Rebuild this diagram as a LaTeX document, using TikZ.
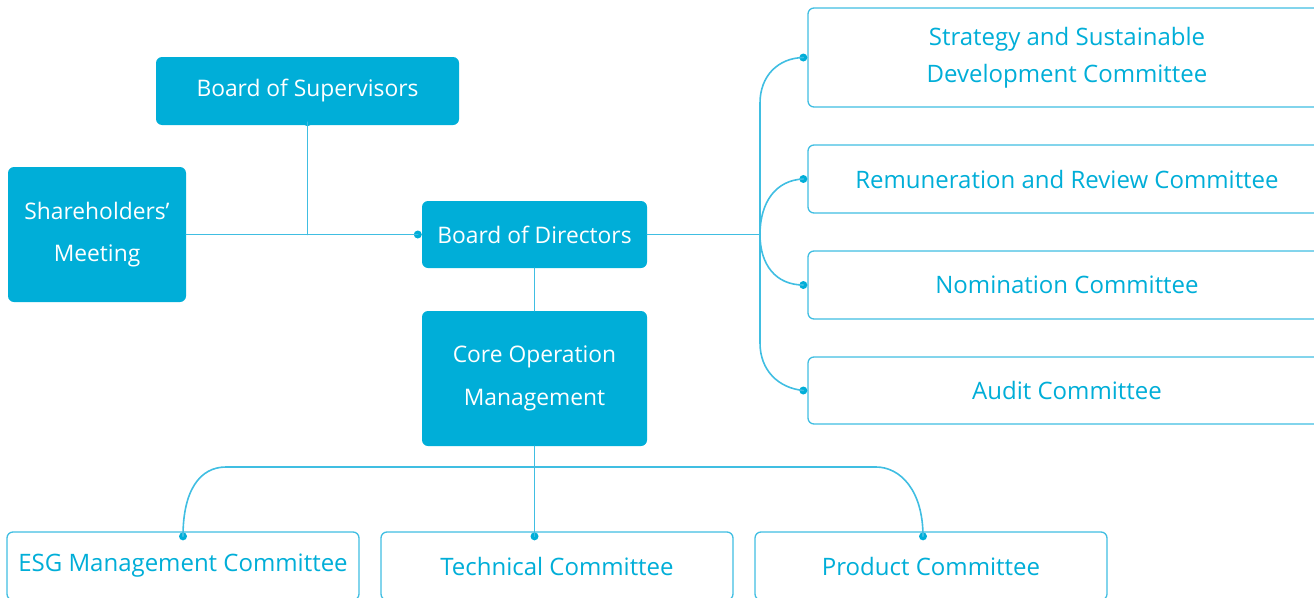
\documentclass[tikz,border=0pt]{standalone}
\usepackage{fontspec}
\setmainfont{Open Sans}
\definecolor{boxcyan}{RGB}{0,174,216}
\definecolor{linecyan}{RGB}{64,190,226}
\begin{document}
\begin{tikzpicture}[x=1pt, y=-1pt, line join=round, line cap=round,
  font=\fontsize{22.8}{26}\selectfont,
  solidbox/.style={fill=boxcyan, text=white, rounded corners=6pt, inner sep=0pt, align=center},
  openbox/.style={draw=linecyan, line width=1.3pt, fill=white, text=boxcyan, rounded corners=6pt, inner sep=0pt, align=center, font=\fontsize{24}{28}\selectfont},
  link/.style={draw=linecyan, line width=1.6pt},
  dot/.style={circle, fill=boxcyan, inner sep=0pt, minimum size=8pt}]
\useasboundingbox (0,0) rectangle (1314,597);
\clip (0,0) rectangle (1314,597);
% left part
\node[solidbox, minimum width=303pt, minimum height=68pt] (sup) at (307.5,91) {Board of Supervisors};
\node[solidbox, minimum width=178pt, minimum height=135pt, font=\fontsize{22.8}{42}\selectfont] (share) at (97,234.5) {Shareholders'\\Meeting};
\node[solidbox, minimum width=225pt, minimum height=67pt] (bod) at (534.5,234.5) {Board of Directors};
\node[solidbox, minimum width=225pt, minimum height=135pt, font=\fontsize{22.8}{43}\selectfont] (core) at (534.5,378.5) {Core Operation\\Management};
% committees on the right
\node[openbox, minimum width=518pt, minimum height=99pt, font=\fontsize{24}{37}\selectfont] (strat) at (1067,57.5) {Strategy and Sustainable\\Development Committee};
\node[openbox, minimum width=518pt, minimum height=68pt] (remun) at (1067,179) {Remuneration and Review Committee};
\node[openbox, minimum width=518pt, minimum height=68pt] (nomin) at (1067,285) {Nomination Committee};
\node[openbox, minimum width=518pt, minimum height=67pt] (audit) at (1067,390.5) {Audit Committee};
% committees below
\node[openbox, minimum width=352pt, minimum height=68pt] (esg) at (183,566) {ESG Management Committee};
\node[openbox, minimum width=352pt, minimum height=68pt] (tech) at (557,566) {Technical Committee};
\node[openbox, minimum width=352pt, minimum height=68pt] (prod) at (931,566) {Product Committee};
% dots
\node[dot] (dsup) at ([yshift=3pt]sup.south) {};
\node[dot] (dbod) at ([xshift=-4pt]bod.west) {};
\node[dot] (dstrat) at ([xshift=-4pt]strat.west) {};
\node[dot] (dremun) at ([xshift=-4pt]remun.west) {};
\node[dot] (dnomin) at ([xshift=-4pt]nomin.west) {};
\node[dot] (daudit) at ([xshift=-4pt]audit.west) {};
\node[dot] (desg) at ([yshift=-5pt]esg.north) {};
\node[dot] (dtech) at (core.south |- desg) {};
\node[dot] (dprod) at ([xshift=-8pt,yshift=-5pt]prod.north) {};
% junctions
\coordinate (jl) at (dsup |- bod.west);
\coordinate (jr) at (760,234.5);
\coordinate (jt) at (760,103);
\coordinate (jb) at (760,343);
\coordinate (hl) at (226,467);
\coordinate (hr) at (876,467);
% lines
\draw[link] (share.east) -- (dbod.center);
\draw[link] (dsup.center) -- (jl);
\draw[link] (bod.east) -- (jr);
\draw[link] (jt) -- (jb);
\draw[link] (jt) .. controls (760,76) and (778,58) .. (dstrat.center);
\draw[link] (jr) .. controls (760,202) and (776,180) .. (dremun.center);
\draw[link] (jr) .. controls (760,265) and (776,285) .. (dnomin.center);
\draw[link] (jb) .. controls (760,370) and (778,388) .. (daudit.center);
\draw[link] (bod.south) -- (core.north);
\draw[link] (core.south) -- (dtech.center);
\draw[link] (hl) -- (hr);
\draw[link] (hl) .. controls (200,467) and (183,490) .. (desg.center);
\draw[link] (hr) .. controls (900,467) and (923,490) .. (dprod.center);
\end{tikzpicture}
\end{document}
